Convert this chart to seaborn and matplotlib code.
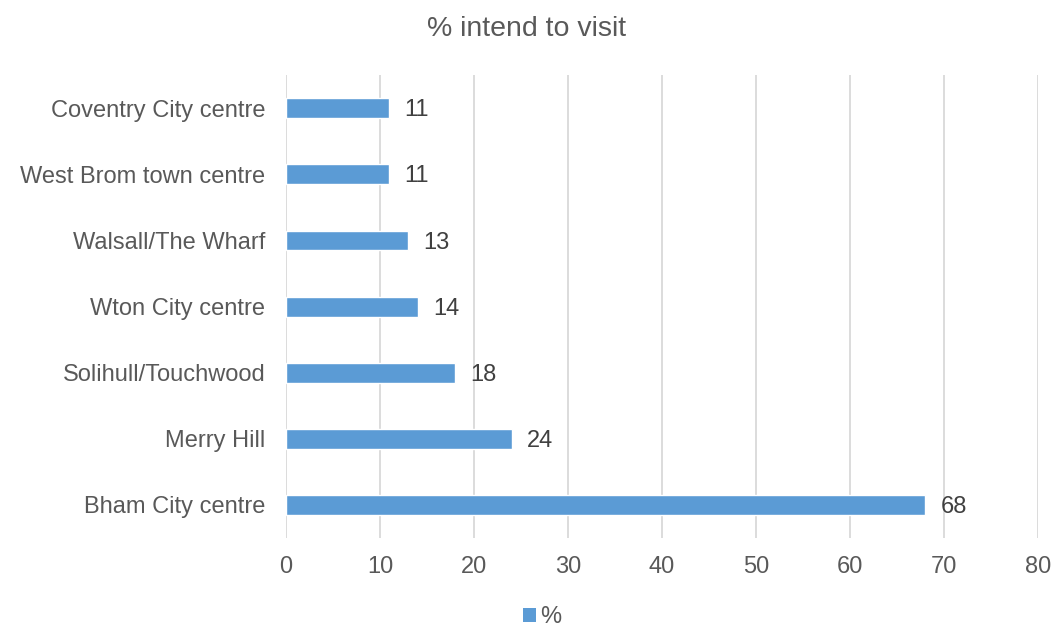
import matplotlib
matplotlib.use("Agg")
import matplotlib.pyplot as plt
from matplotlib.patches import Patch
import seaborn as sns
import pandas as pd

# Destinations, listed top to bottom as drawn
places = [
    "Coventry City centre",
    "West Brom town centre",
    "Walsall/The Wharf",
    "Wton City centre",
    "Solihull/Touchwood",
    "Merry Hill",
    "Bham City centre",
]
pct = [11, 11, 13, 14, 18, 24, 68]
x_ticks = [0, 10, 20, 30, 40, 50, 60, 70, 80]

title = "% intend to visit"
series_name = "%"

bar_color = "#5B9BD5"
text_color = "#595959"
label_color = "#404040"
grid_color = "#D9D9D9"

sns.set_theme(style="white")
plt.rcParams["font.family"] = ["Liberation Sans", "DejaVu Sans"]

df = pd.DataFrame({"place": places, "pct": pct})

fig = plt.figure(figsize=(10.53, 6.27), dpi=100)
ax = fig.add_axes([0.2716, 0.142, 0.7142, 0.738])

sns.barplot(data=df, x="pct", y="place", order=places, orient="h",
            color=bar_color, width=0.3, saturation=1, ax=ax)

ax.set_xlim(0, 80)
ax.set_xticks(x_ticks)
ax.set_xlabel("")
ax.set_ylabel("")
ax.xaxis.grid(True, color=grid_color, linewidth=1.3)
ax.yaxis.grid(False)
ax.set_axisbelow(True)
for s in ax.spines.values():
    s.set_visible(False)

ax.tick_params(axis="x", length=0, pad=13, labelsize=17, labelcolor=text_color)
ax.tick_params(axis="y", length=0, pad=15, labelsize=17, labelcolor=text_color)

# value labels just right of each bar end
for i, v in enumerate(pct):
    ax.annotate(str(v), xy=(v, i), xytext=(11, -1.5), textcoords="offset points",
                ha="left", va="center", fontsize=17, color=label_color)

fig.text(0.5, 0.953, title, ha="center", va="center",
         fontsize=20.5, color=text_color)

handles = [Patch(facecolor=bar_color, edgecolor="none", label=series_name)]
fig.legend(handles=handles, loc="center", bbox_to_anchor=(0.515, 0.016),
           frameon=False, fontsize=17, handlelength=0.55, handleheight=0.55,
           handletextpad=0.2, borderpad=0.0, labelcolor=text_color)

fig.savefig("out.png", dpi=100)
